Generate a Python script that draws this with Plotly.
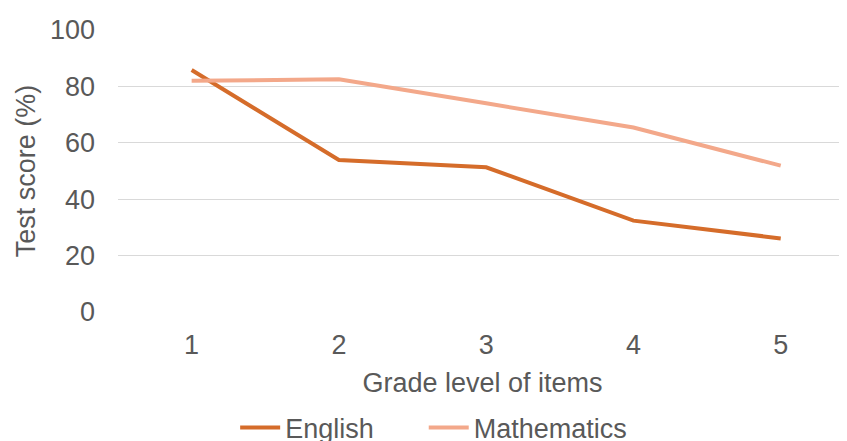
import plotly.graph_objects as go

grades = [1, 2, 3, 4, 5]
english = [85.8, 53.9, 51.3, 32.4, 26.1]
mathematics = [82.0, 82.5, 74.0, 65.4, 51.9]
y_ticks = [0, 20, 40, 60, 80, 100]
series_names = ["English", "Mathematics"]

font = "Liberation Sans, Arial, sans-serif"
grey = "#595959"
fs = 27
pad = "\u00a0" * 6

fig = go.Figure()
fig.add_trace(go.Scatter(x=grades, y=english, mode="lines", name=series_names[0] + pad,
                         line=dict(color="#D56C2A", width=4)))
fig.add_trace(go.Scatter(x=grades, y=mathematics, mode="lines", name=series_names[1],
                         line=dict(color="#F3A88A", width=4)))

fig.update_layout(
    width=839, height=433,
    margin=dict(l=110, r=0, t=22, b=129, autoexpand=False),
    paper_bgcolor="white", plot_bgcolor="white",
    font=dict(family=font, size=fs, color=grey),
    legend=dict(orientation="h", x=0.433, xanchor="center", yref="container",
                y=0.030, yanchor="middle",
                font=dict(size=fs, color=grey), itemwidth=40, traceorder="normal"),
    xaxis=dict(range=[0.5, 5.45], tickvals=grades, showgrid=False, zeroline=False,
               showline=False, ticks="", ticklabelstandoff=14, automargin=False,
               title=dict(text="Grade level of items", standoff=14,
                          font=dict(size=fs, color=grey)),
               tickfont=dict(size=fs, color=grey)),
    yaxis=dict(range=[0, 100], tickvals=y_ticks, showgrid=True, gridcolor="#D9D9D9",
               gridwidth=1, zeroline=False, showline=False, ticks="", ticklabelstandoff=22,
               automargin=False,
               title=dict(text="Test score (%)", standoff=6,
                          font=dict(size=fs, color=grey)),
               tickfont=dict(size=fs, color=grey)),
)

fig.write_html("out.html")
